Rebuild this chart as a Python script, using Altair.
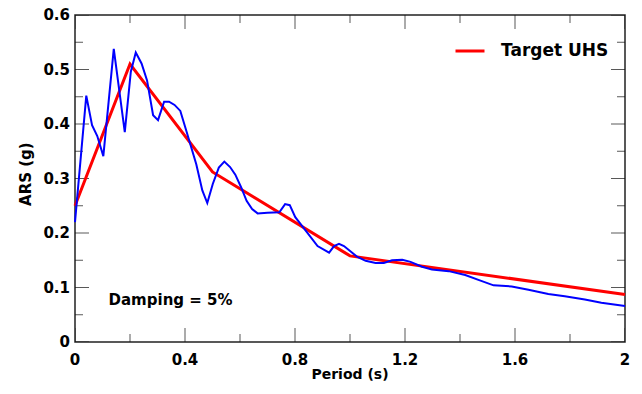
import altair as alt
import pandas as pd

# Computed response spectrum (blue)
period_blue = [0.0, 0.041, 0.062, 0.081, 0.103, 0.141, 0.181, 0.203, 0.221, 0.242,
               0.262, 0.284, 0.302, 0.324, 0.342, 0.362, 0.383, 0.405, 0.441, 0.463,
               0.481, 0.501, 0.523, 0.543, 0.564, 0.583, 0.604, 0.624, 0.644, 0.664,
               0.70, 0.743, 0.764, 0.781, 0.801, 0.827, 0.882, 0.924, 0.942, 0.960,
               0.978, 1.027, 1.057, 1.093, 1.123, 1.153, 1.19, 1.22, 1.262, 1.298,
               1.359, 1.419, 1.467, 1.522, 1.588, 1.649, 1.721, 1.781, 1.854, 1.914, 2.0]
ars_blue = [0.22, 0.452, 0.398, 0.378, 0.341, 0.538, 0.385, 0.496, 0.531, 0.511,
            0.48, 0.416, 0.407, 0.441, 0.441, 0.435, 0.424, 0.387, 0.326, 0.278,
            0.255, 0.290, 0.32, 0.331, 0.321, 0.307, 0.284, 0.259, 0.244, 0.236,
            0.237, 0.238, 0.253, 0.251, 0.229, 0.212, 0.176, 0.164, 0.176, 0.18,
            0.176, 0.156, 0.149, 0.145, 0.145, 0.150, 0.151, 0.147, 0.138, 0.133,
            0.130, 0.123, 0.114, 0.104, 0.102, 0.096, 0.088, 0.084, 0.078, 0.072, 0.066]

# Target UHS (red)
period_uhs = [0.0, 0.2, 0.5, 1.0, 2.0]
ars_uhs = [0.25, 0.51, 0.312, 0.158, 0.087]
uhs_name = "Target UHS"

# ticks and tick labels
x_major = [0, 0.4, 0.8, 1.2, 1.6, 2]
x_labels = ["0", "0.4", "0.8", "1.2", "1.6", "2"]
x_minor = [0.2, 0.6, 1.0, 1.4, 1.8]
y_major = [0, 0.1, 0.2, 0.3, 0.4, 0.5, 0.6]
y_labels = ["0", "0.1", "0.2", "0.3", "0.4", "0.5", "0.6"]
y_minor = [0.05, 0.15, 0.25, 0.35, 0.45, 0.55]
x_edges = [0, 2]
y_edges = [0, 0.6]

# axis titles (placed in data coordinates outside the frame)
x_title = ["Period (s)"]
x_title_T = [1.0]
x_title_A = [-0.0605]
y_title = ["ARS (g)"]
y_title_T = [-0.178]
y_title_A = [0.308]

note_text = ["Damping = 5%"]
note_T = [0.122]
note_A = [0.077]

FONT = "DejaVu Sans"

blue_df = pd.DataFrame({"T": period_blue, "A": ars_blue})
red_df = pd.DataFrame({"T": period_uhs, "A": ars_uhs, "series": [uhs_name] * len(period_uhs)})
note_df = pd.DataFrame({"T": note_T, "A": note_A, "label": note_text})
xlab_df = pd.DataFrame({"T": x_major, "A": [0] * len(x_major), "label": x_labels})
ylab_df = pd.DataFrame({"T": [0] * len(y_major), "A": y_major, "label": y_labels})
xtitle_df = pd.DataFrame({"T": x_title_T, "A": x_title_A, "label": x_title})
ytitle_df = pd.DataFrame({"T": y_title_T, "A": y_title_A, "label": y_title})

# inward tick marks on all four sides (centred on the frame, half clipped away)
xt_rows = []
for a in y_edges:
    for t in x_major:
        xt_rows.append({"T": t, "A": a, "kind": "major"})
    for t in x_minor:
        xt_rows.append({"T": t, "A": a, "kind": "minor"})
yt_rows = []
for t in x_edges:
    for a in y_major:
        yt_rows.append({"T": t, "A": a, "kind": "major"})
    for a in y_minor:
        yt_rows.append({"T": t, "A": a, "kind": "minor"})
xt_df = pd.DataFrame(xt_rows)
yt_df = pd.DataFrame(yt_rows)

xs = alt.Scale(domain=[0, 2], nice=False, zero=False)
ys = alt.Scale(domain=[0, 0.6], nice=False, zero=False)
size_scale = alt.Scale(domain=["major", "minor"], range=[28, 16])

X = alt.X("T:Q", scale=xs, axis=None)
Y = alt.Y("A:Q", scale=ys, axis=None)

xticks = alt.Chart(xt_df).mark_tick(orient="vertical", thickness=1, color="#111", clip=True).encode(
    x=X, y=Y, size=alt.Size("kind:N", scale=size_scale, legend=None))

yticks = alt.Chart(yt_df).mark_tick(orient="horizontal", thickness=1, color="#111", clip=True).encode(
    x=X, y=Y, size=alt.Size("kind:N", scale=size_scale, legend=None))

red = alt.Chart(red_df).mark_line(strokeWidth=3).encode(
    x=X, y=Y,
    color=alt.Color("series:N", scale=alt.Scale(domain=[uhs_name], range=["#ff0000"]),
                    legend=alt.Legend(title=None, orient="none", legendX=379, legendY=20,
                                      symbolType="stroke", symbolSize=841,
                                      symbolStrokeWidth=3, labelFont=FONT,
                                      labelFontSize=17, labelFontWeight="bold",
                                      labelColor="black", labelOffset=15)),
)

blue = alt.Chart(blue_df).mark_line(strokeWidth=2, color="#0000ff").encode(x=X, y=Y)

note = alt.Chart(note_df).mark_text(align="left", baseline="middle", font=FONT,
                                    fontSize=15, fontWeight="bold", color="black").encode(
    x=X, y=Y, text="label:N")

xlabels = alt.Chart(xlab_df).mark_text(align="center", baseline="middle", dy=18, font=FONT,
                                       fontSize=15, fontWeight="bold", color="black").encode(
    x=X, y=Y, text="label:N")

ylabels = alt.Chart(ylab_df).mark_text(align="right", baseline="middle", dx=-5, font=FONT,
                                       fontSize=15, fontWeight="bold", color="black").encode(
    x=X, y=Y, text="label:N")

xtitle = alt.Chart(xtitle_df).mark_text(align="center", baseline="middle", font=FONT,
                                        fontSize=14, fontWeight="bold", color="black").encode(
    x=X, y=Y, text="label:N")

ytitle = alt.Chart(ytitle_df).mark_text(align="center", baseline="middle", angle=270, font=FONT,
                                        fontSize=15, fontWeight="bold", color="black").encode(
    x=X, y=Y, text="label:N")

chart = alt.layer(
    xticks, yticks, red, blue, note, xlabels, ylabels, xtitle, ytitle,
).properties(
    width=550, height=327,
    padding={"left": 11, "top": 0, "right": 0, "bottom": 0},
    background="white",
).configure_view(stroke="#222", strokeWidth=1.5)

chart.save("out.html", embed_options={"renderer": "svg", "actions": False})
